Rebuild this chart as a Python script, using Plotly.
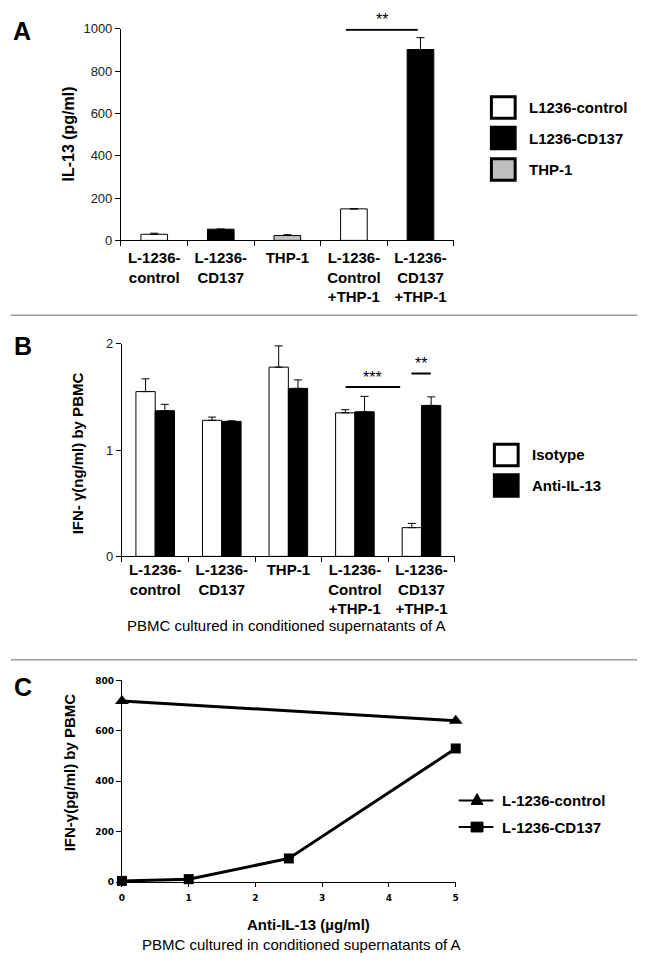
import plotly.graph_objects as go

# categories shared by panels A and B
cats = ["L-1236-<br>control", "L-1236-<br>CD137", "THP-1",
        "L-1236-<br>Control<br>+THP-1", "L-1236-<br>CD137<br>+THP-1"]

# panel A: IL-13 (pg/ml)
a_names = ["L1236-control", "L1236-CD137", "THP-1"]
a_colors = ["white", "black", "#c0c0c0"]
a_x = [[cats[0], cats[3]], [cats[1], cats[4]], [cats[2]]]
a_y = [[29, 149], [53, 902], [23]]
a_err = [[5, 0], [0, 56], [4]]

# panel B: IFN-gamma (ng/ml)
b_names = ["Isotype", "Anti-IL-13"]
b_colors = ["white", "black"]
b_iso = [1.55, 1.28, 1.78, 1.35, 0.27]
b_iso_err = [0.12, 0.03, 0.20, 0.03, 0.04]
b_anti = [1.37, 1.27, 1.58, 1.36, 1.42]
b_anti_err = [0.06, 0.005, 0.08, 0.145, 0.08]

# panel C: IFN-gamma (pg/ml) vs anti-IL-13 dose
c_names = ["L-1236-control", "L-1236-CD137"]
c_dose_ctrl = [0, 5]
c_ifn_ctrl = [718, 640]
c_dose_cd137 = [0, 1, 2.5, 5]
c_ifn_cd137 = [5, 12, 94, 530]

# page is 648x971 with the default 8px body margin, so the figure is 632x955
OFF = 8
W, H = 648 - 2 * OFF, 971 - 2 * OFF
FONT = "Arial, Liberation Sans, sans-serif"


def px(x):
    return (x - OFF) / W


def py(y):
    return 1 - (y - OFF) / H


fig = go.Figure()

# ---- A
for name, col, xs, ys, er in zip(a_names, a_colors, a_x, a_y, a_err):
    fig.add_trace(go.Bar(x=xs, y=ys, name=name, marker=dict(color=col, line=dict(color="black", width=1)),
                         width=0.4, offset=-0.2, showlegend=False,
                         error_y=dict(type="data", array=er, arrayminus=[0] * len(er), symmetric=False,
                                      color="black", thickness=1, width=4),
                         xaxis="x", yaxis="y"))

# ---- B
for name, col, ys, er, off in [(b_names[0], b_colors[0], b_iso, b_iso_err, -0.29),
                               (b_names[1], b_colors[1], b_anti, b_anti_err, 0.0)]:
    fig.add_trace(go.Bar(x=cats, y=ys, name=name, marker=dict(color=col, line=dict(color="black", width=1)),
                         width=0.29, offset=off, showlegend=False,
                         error_y=dict(type="data", array=er, arrayminus=[0] * len(er), symmetric=False,
                                      color="black", thickness=1, width=4),
                         xaxis="x2", yaxis="y2"))

# ---- C
fig.add_trace(go.Scatter(x=c_dose_ctrl, y=c_ifn_ctrl, name=c_names[0], mode="lines+markers",
                         line=dict(color="black", width=3), showlegend=False,
                         marker=dict(symbol="triangle-up", size=12, color="black"),
                         xaxis="x3", yaxis="y3", cliponaxis=False))
fig.add_trace(go.Scatter(x=c_dose_cd137, y=c_ifn_cd137, name=c_names[1], mode="lines+markers",
                         line=dict(color="black", width=3), showlegend=False,
                         marker=dict(symbol="square", size=10, color="black"),
                         xaxis="x3", yaxis="y3", cliponaxis=False))

axis_common = dict(showline=True, linecolor="black", linewidth=1, ticks="outside", ticklen=5,
                   tickcolor="black", showgrid=False, zeroline=False)
cat_axis = dict(axis_common, type="category", categoryorder="array", categoryarray=cats,
                tickson="boundaries", range=[-0.5, 4.5],
                tickfont=dict(family=FONT, size=15, color="black", weight="bold"))
ytick = dict(family=FONT, size=13, color="#222")
small = dict(family="DejaVu Sans", size=9, color="black", weight="bold")

fig.update_layout(
    width=W, height=H, autosize=False, margin=dict(l=0, r=0, t=0, b=0),
    paper_bgcolor="white", plot_bgcolor="white", barmode="overlay",
    font=dict(family=FONT, color="black"), showlegend=False,
    xaxis=dict(cat_axis, domain=[px(119), px(455)], anchor="y", ticklabelstandoff=4),
    yaxis=dict(axis_common, domain=[py(237), py(22)], range=[0, 1000], dtick=200,
               tickfont=ytick, anchor="x"),
    xaxis2=dict(cat_axis, domain=[px(120), px(456)], anchor="y2"),
    yaxis2=dict(axis_common, domain=[py(558), py(342)], range=[0, 2], dtick=1,
                tickfont=ytick, anchor="x2"),
    xaxis3=dict(axis_common, domain=[px(120), px(457)], range=[0, 5], dtick=1, ticklen=4,
                tickfont=small, anchor="y3", ticklabelstandoff=3),
    yaxis3=dict(axis_common, domain=[py(889), py(684)], range=[0, 800], dtick=200,
                tickfont=small, anchor="x3"),
)

shapes = []
# panel separators
gray = dict(color="#9a9a9a", width=1.5)
for yy in [313, 663]:
    shapes.append(dict(type="line", xref="paper", yref="paper", x0=0, x1=1, y0=py(yy), y1=py(yy), line=gray))

# significance bars
shapes.append(dict(type="line", xref="x", yref="y", x0=2.88, x1=3.96, y0=995, y1=995, line=dict(color="black", width=2)))
shapes.append(dict(type="line", xref="x2", yref="y2", x0=2.86, x1=3.68, y0=1.593, y1=1.593, line=dict(color="black", width=2)))
shapes.append(dict(type="line", xref="x2", yref="y2", x0=3.85, x1=4.14, y0=1.72, y1=1.72, line=dict(color="black", width=2)))

annotations = []


def label(text, x, y, size=15, bold=False, angle=0, xanchor="center", family=FONT):
    annotations.append(dict(text=text, x=px(x), y=py(y), xref="paper", yref="paper", showarrow=False,
                            xanchor=xanchor, yanchor="middle", textangle=angle,
                            font=dict(family=family, size=size, color="black",
                                      weight="bold" if bold else "normal")))


# legends for bar panels
def box_legend(names, colors, x0, ys, tx):
    for n, c, yc in zip(names, colors, ys):
        shapes.append(dict(type="rect", xref="paper", yref="paper", x0=px(x0), x1=px(x0 + 24),
                           y0=py(yc + 11), y1=py(yc - 11), fillcolor=c, line=dict(color="black", width=3)))
        label(n, tx, yc, bold=True, xanchor="left")


box_legend(a_names, a_colors, 493, [102, 133, 165], 529)
box_legend(b_names, b_colors, 496, [455, 486], 532)

# legend for the line panel: line sample with its marker
for n, sym, yc in zip(c_names, ["triangle", "square"], [806, 833]):
    shapes.append(dict(type="line", xref="paper", yref="paper", x0=px(460), x1=px(495),
                       y0=py(yc), y1=py(yc), line=dict(color="black", width=2)))
    mx = 478.5
    if sym == "triangle":
        path = "M{},{} L{},{} L{},{} Z".format(px(mx - 6), py(yc + 4), px(mx + 6), py(yc + 4), px(mx), py(yc - 7))
    else:
        path = "M{0},{1} L{2},{1} L{2},{3} L{0},{3} Z".format(px(mx - 6), py(yc + 5), px(mx + 6), py(yc - 5))
    shapes.append(dict(type="path", xref="paper", yref="paper", path=path, fillcolor="black",
                       line=dict(color="black", width=1)))
    label(n, 502, yc, bold=True, xanchor="left")

# panel letters
label("A", 19, 24, size=25, bold=True)
label("B", 20, 344, size=25, bold=True)
label("C", 20, 691, size=25, bold=True)

# axis titles
label("IL-13 (pg/ml)", 66, 129, size=16, bold=True, angle=-90)
label("IFN- γ(ng/ml) by PBMC", 75, 453, size=15, bold=True, angle=-90)
label("IFN-γ(pg/ml) by PBMC", 67, 777, size=15, bold=True, angle=-90)
label("Anti-IL-13 (µg/ml)", 308, 932, size=15, bold=True)
label("PBMC cultured in conditioned supernatants of A", 286, 628, size=15)
label("PBMC cultured in conditioned supernatants of A", 301, 952, size=15)

# significance stars
label("**", 383, 13, size=16)
label("***", 373, 376, size=16)
label("**", 422, 362, size=16)

fig.update_layout(shapes=shapes, annotations=annotations)
fig.write_html("out.html", config={"displayModeBar": False})
